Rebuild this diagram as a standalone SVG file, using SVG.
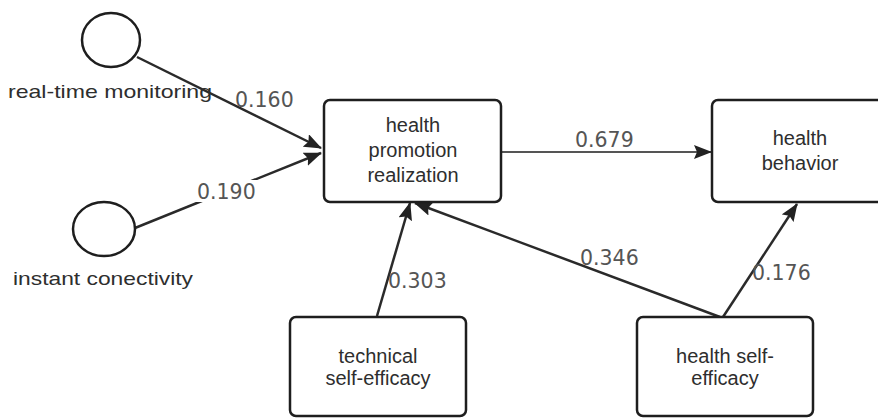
<svg xmlns="http://www.w3.org/2000/svg" width="878" height="418" viewBox="0 0 878 418">
<style>
.box{fill:#fff;stroke:#1e1e1e;stroke-width:2.5}
.circ{fill:#fff;stroke:#1e1e1e;stroke-width:2.5}
.bt{font-family:"Liberation Sans",Arial,sans-serif;font-size:20px;fill:#2e2e2e;text-anchor:middle}
.lt{font-family:"Liberation Sans",Arial,sans-serif;font-size:19px;fill:#2e2e2e}
.edge{stroke:#2a2a2a;stroke-width:2.5;fill:none;marker-end:url(#ah)}
.num{font-family:"DejaVu Sans",sans-serif;font-size:20.5px;fill:#555}
</style>
<defs>
<marker id="ah" markerUnits="userSpaceOnUse" markerWidth="18" markerHeight="14" refX="17" refY="7" orient="auto">
<path d="M0,0 L18,7 L0,14 L3,7 z" fill="#222"/>
</marker>
</defs>
<rect width="878" height="418" fill="#fff"/>
<g id="edges">
<line class="edge" x1="137" y1="57" x2="321" y2="148"/>
<line class="edge" x1="135" y1="228" x2="321" y2="153"/>
<line class="edge" x1="502" y1="152" x2="711" y2="152" style="stroke:#555;stroke-width:2"/>
<line class="edge" x1="377" y1="316" x2="410" y2="203"/>
<line class="edge" x1="720" y1="317" x2="415" y2="203"/>
<line class="edge" x1="723" y1="317" x2="797" y2="204"/>
<text class="num" x="235" y="107">0.160</text>
<rect x="196" y="180" width="63" height="22" fill="#fff"/>
<text class="num" x="197" y="199">0.190</text>
<text class="num" x="575" y="147">0.679</text>
<text class="num" x="388" y="288">0.303</text>
<text class="num" x="580" y="265">0.346</text>
<text class="num" x="752" y="280">0.176</text>
</g>
<g id="real-time-monitoring">
<ellipse class="circ" cx="111" cy="40" rx="29" ry="27"/>
<text class="lt" x="8" y="98" textLength="204" lengthAdjust="spacingAndGlyphs">real-time monitoring</text>
</g>
<g id="instant-conectivity">
<ellipse class="circ" cx="104" cy="229" rx="31" ry="27"/>
<text class="lt" x="13" y="285" textLength="180" lengthAdjust="spacingAndGlyphs">instant conectivity</text>
</g>
<g id="health-promotion-realization">
<rect class="box" x="324" y="100" width="177" height="102" rx="6"/>
<text class="bt" x="413" y="132">health</text>
<text class="bt" x="413" y="157">promotion</text>
<text class="bt" x="413" y="182">realization</text>
</g>
<g id="health-behavior">
<rect class="box" x="712" y="100" width="177" height="102" rx="6"/>
<text class="bt" x="800" y="145">health</text>
<text class="bt" x="800" y="170">behavior</text>
</g>
<g id="technical-self-efficacy">
<rect class="box" x="290" y="317" width="176" height="99" rx="6"/>
<text class="bt" x="378" y="363">technical</text>
<text class="bt" x="378" y="385">self-efficacy</text>
</g>
<g id="health-self-efficacy">
<rect class="box" x="637" y="317" width="176" height="99" rx="6"/>
<text class="bt" x="725" y="363">health self-</text>
<text class="bt" x="725" y="385">efficacy</text>
</g>
</svg>
